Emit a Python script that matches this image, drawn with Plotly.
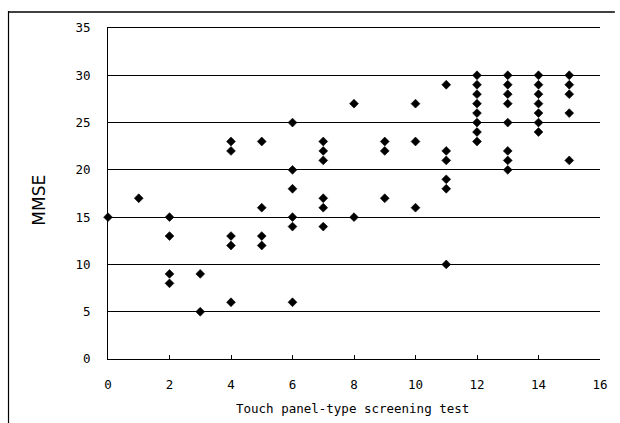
import plotly.graph_objects as go

touch_score = (
    [0] + [1] + [2]*4 + [3]*2 + [4]*5 + [5]*4 + [6]*6 + [7]*6 + [8]*2 + [9]*3
    + [10]*3 + [11]*6 + [12]*8 + [13]*8 + [14]*7 + [15]*5
)
mmse = (
    [15]
    + [17]
    + [15, 13, 9, 8]
    + [9, 5]
    + [23, 22, 13, 12, 6]
    + [23, 16, 13, 12]
    + [25, 20, 18, 15, 14, 6]
    + [23, 22, 21, 17, 16, 14]
    + [27, 15]
    + [23, 22, 17]
    + [27, 23, 16]
    + [29, 22, 21, 19, 18, 10]
    + [30, 29, 28, 27, 26, 25, 24, 23]
    + [30, 29, 28, 27, 25, 22, 21, 20]
    + [30, 29, 28, 27, 26, 25, 24]
    + [30, 29, 28, 26, 21]
)

x_ticks = [0, 2, 4, 6, 8, 10, 12, 14, 16]
y_ticks = [0, 5, 10, 15, 20, 25, 30, 35]
x_title = "Touch panel-type screening test"
y_title = "MMSE"

W, H = 620, 423
L, R, T, B = 108, 15, 28, 64
pw, ph = W - L - R, H - T - B

def px(xp):
    return (xp - L) / pw

def py(yp):
    return (H - B - yp) / ph

fig = go.Figure()
fig.add_trace(go.Scatter(
    x=touch_score, y=mmse, mode="markers",
    marker=dict(symbol="diamond", size=6.8, color="black", line=dict(width=0.6, color="black")),
    cliponaxis=False, showlegend=False, hoverinfo="skip",
))

mono = dict(family="DejaVu Sans Mono, monospace", size=12.5, color="black")

fig.update_layout(
    width=W, height=H,
    margin=dict(l=L, r=R, t=T, b=B),
    paper_bgcolor="white", plot_bgcolor="white",
    font=mono,
    xaxis=dict(
        range=[0, 16], tickvals=x_ticks, ticktext=[str(v) for v in x_ticks],
        showgrid=False, zeroline=False, showline=True, linecolor="black", linewidth=1,
        mirror=True,
        ticks="inside", ticklen=4, tickcolor="black", ticklabelstandoff=14,
        tickfont=mono,
    ),
    yaxis=dict(
        range=[0, 35], tickvals=y_ticks, ticktext=[str(v) for v in y_ticks],
        showgrid=True, gridcolor="black", gridwidth=1, zeroline=False,
        showline=True, linecolor="black", linewidth=1,
        ticks="", ticklabelstandoff=14, tickfont=mono,
    ),
    annotations=[
        dict(text=x_title, xref="paper", yref="paper", x=px(355), y=py(408),
             xanchor="center", yanchor="middle", showarrow=False, font=mono),
        dict(text=y_title, xref="paper", yref="paper", x=px(38), y=py(200),
             xanchor="center", yanchor="middle", showarrow=False, textangle=-90,
             font=dict(family="DejaVu Sans, sans-serif", size=17, color="black")),
    ],
    shapes=[
        dict(type="line", xref="paper", yref="paper",
             x0=px(7), x1=px(620), y0=py(12), y1=py(12),
             line=dict(color="black", width=1.6), layer="above"),
        dict(type="line", xref="paper", yref="paper",
             x0=px(7.5), x1=px(7.5), y0=py(11), y1=py(423),
             line=dict(color="black", width=1.2), layer="above"),
    ],
)

fig.write_html("out.html", config={"displayModeBar": False},
               post_script="document.body.style.margin='0';")
